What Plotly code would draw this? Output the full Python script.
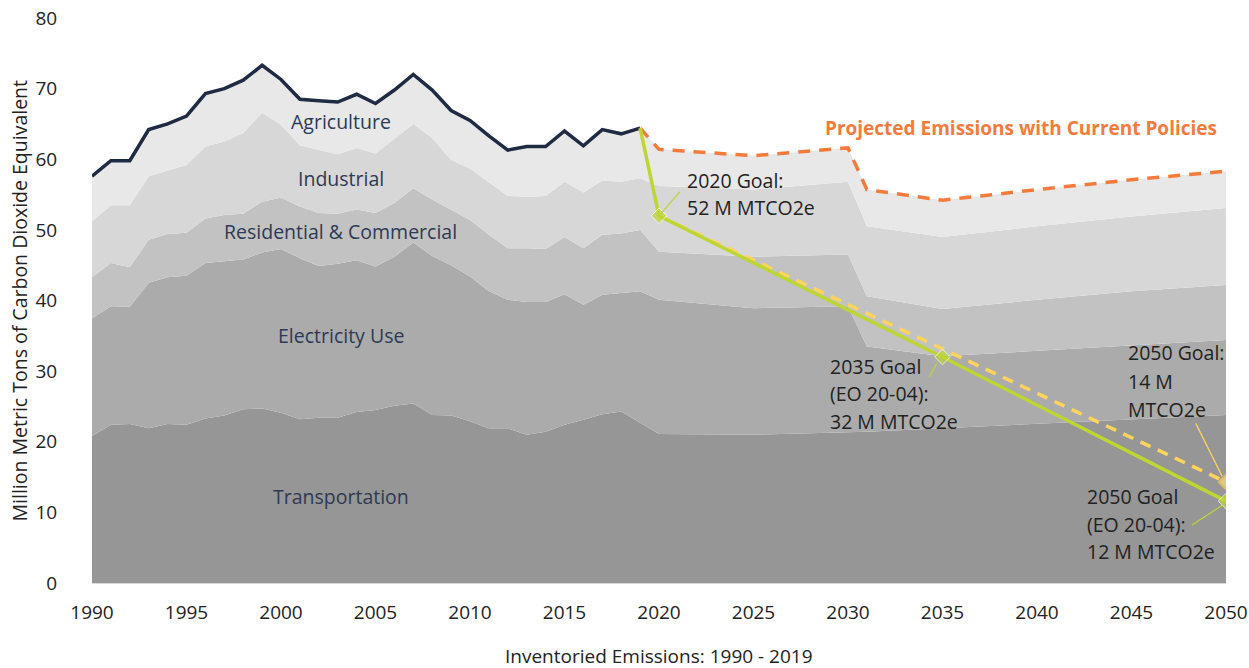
import plotly.graph_objects as go

# ---------------- data ----------------
years = list(range(1990, 2020)) + [2020, 2025, 2030, 2031, 2035, 2040, 2045, 2050]

# cumulative stack tops (million metric tons CO2e)
transport_top = [20.8, 22.4, 22.5, 21.9, 22.5, 22.4, 23.3, 23.7, 24.6, 24.7,
                 24.1, 23.2, 23.4, 23.4, 24.2, 24.5, 25.1, 25.4, 23.8, 23.7,
                 22.9, 21.9, 21.9, 21.0, 21.4, 22.4, 23.1, 23.9, 24.3, 22.7,
                 21.1, 21.0, 21.3, 21.4, 21.9, 22.5, 23.2, 23.8]
electricity_top = [37.5, 39.2, 39.1, 42.5, 43.3, 43.5, 45.3, 45.5, 45.8, 46.8,
                   47.3, 46.0, 44.9, 45.2, 45.7, 44.8, 46.2, 48.2, 46.3, 45.0,
                   43.4, 41.3, 40.1, 39.8, 39.8, 40.9, 39.4, 40.8, 41.0, 41.3,
                   40.1, 38.9, 39.2, 33.5, 32.1, 32.9, 33.6, 34.4]
rescom_top = [43.3, 45.3, 44.7, 48.6, 49.4, 49.6, 51.6, 52.1, 52.3, 54.0,
              54.6, 53.3, 52.4, 52.3, 52.9, 52.4, 53.8, 55.9, 54.3, 52.8,
              51.4, 49.3, 47.4, 47.4, 47.3, 49.0, 47.4, 49.3, 49.5, 50.0,
              46.9, 46.2, 46.5, 40.6, 38.8, 40.1, 41.3, 42.2]
industrial_top = [51.2, 53.5, 53.5, 57.6, 58.4, 59.2, 61.8, 62.5, 63.7, 66.6,
                  64.9, 62.0, 61.3, 60.7, 61.6, 60.8, 62.9, 65.0, 63.0, 59.9,
                  58.7, 56.8, 54.8, 54.7, 54.8, 56.8, 55.3, 57.0, 56.8, 57.3,
                  56.2, 55.7, 56.8, 50.5, 49.0, 50.5, 51.9, 53.1]
total = [57.6, 59.8, 59.8, 64.2, 65.0, 66.1, 69.3, 70.0, 71.2, 73.3,
         71.3, 68.5, 68.3, 68.1, 69.2, 67.9, 69.8, 72.0, 69.8, 66.9,
         65.5, 63.3, 61.3, 61.8, 61.8, 64.0, 61.9, 64.2, 63.6, 64.4,
         61.4, 60.5, 61.6, 55.7, 54.2, 55.7, 57.1, 58.3]

n_hist = 30  # 1990-2019 inventoried

goal_years = [2019, 2020, 2035, 2050]
goal_eo = [64.4, 52.0, 32.0, 11.6]
goal_14_years = [2020, 2050]
goal_14 = [52.0, 14.3]

sector_names = ["Transportation", "Electricity Use", "Residential & Commercial",
                "Industrial", "Agriculture"]
sector_colors = ["#969696", "#ABABAB", "#C2C2C2", "#D7D7D7", "#E8E8E8"]

tick_years = list(range(1990, 2051, 5))
tick_vals_y = list(range(0, 81, 10))

# ---------------- derived sector values ----------------
tops = [transport_top, electricity_top, rescom_top, industrial_top, total]
sectors = []
prev = [0.0] * len(years)
for t in tops:
    sectors.append([round(a - b, 2) for a, b in zip(t, prev)])
    prev = t

FONT = "Open Sans"
fig = go.Figure()

for name, vals, col in zip(sector_names, sectors, sector_colors):
    fig.add_trace(go.Scatter(
        x=years, y=vals, name=name, stackgroup="s", mode="lines",
        line=dict(width=0, color=col), fillcolor=col, hoverinfo="x+y+name",
        showlegend=False))

# inventoried total line
fig.add_trace(go.Scatter(
    x=years[:n_hist], y=total[:n_hist], mode="lines",
    line=dict(color="#1E2B43", width=3.5), showlegend=False))

# projected with current policies
fig.add_trace(go.Scatter(
    x=years[n_hist - 1:], y=total[n_hist - 1:], mode="lines",
    line=dict(color="#F47B3B", width=3.5, dash="12px,9px"), showlegend=False))

# 14 M goal dashed line
fig.add_trace(go.Scatter(
    x=goal_14_years, y=goal_14, mode="lines+markers",
    line=dict(color="#FFD45C", width=3.5, dash="11px,8px"),
    marker=dict(symbol="diamond", size=[0, 11], color="#FFE08A",
                line=dict(color="#FFD045", width=2)),
    showlegend=False))

# EO 20-04 goals line
fig.add_trace(go.Scatter(
    x=goal_years, y=goal_eo, mode="lines+markers",
    line=dict(color="#BDD634", width=3.5),
    marker=dict(symbol="diamond", size=[0, 12, 12, 12], color="#BDD634"),
    showlegend=False))

ann = []
label_color = "#2D3A55"
cat_labels = [("Agriculture", 65.4), ("Industrial", 57.3),
              ("Residential & Commercial", 49.7), ("Electricity Use", 35.1),
              ("Transportation", 12.2)]
for txt, yv in cat_labels:
    ann.append(dict(x=2003.15, y=yv, text=txt, showarrow=False,
                    font=dict(family=FONT, size=19.5, color=label_color),
                    xanchor="center", yanchor="middle"))

goal_lines = [
    (2021.38, [("2020 Goal:", 57.06), ("52 M MTCO2e", 53.1)]),
    (2028.94, [("2035 Goal", 30.7), ("(EO 20-04):", 26.8), ("32 M MTCO2e", 22.8)]),
    (2044.71, [("2050 Goal:", 32.6), ("14 M", 28.6), ("MTCO2e", 24.6)]),
    (2042.54, [("2050 Goal", 12.2), ("(EO 20-04):", 8.35), ("12 M MTCO2e", 4.5)]),
]
for xv, lines in goal_lines:
    for txt, yv in lines:
        ann.append(dict(x=xv, y=yv, text=txt, showarrow=False,
                        font=dict(family=FONT, size=19.5, color="#222222"),
                        xanchor="left", yanchor="middle"))

ann.append(dict(x=2039.13, y=64.4, text="<b>Projected Emissions with Current Policies</b>",
                showarrow=False, font=dict(family=FONT, size=19, color="#F47B3B"),
                xanchor="center", yanchor="middle"))

# axis titles
ann.append(dict(xref="paper", yref="paper", x=-0.0635, y=0.5,
                text="Million Metric Tons of Carbon Dioxide Equivalent",
                textangle=-90, showarrow=False,
                font=dict(family=FONT, size=19.5, color="#222222"),
                xanchor="center", yanchor="middle"))
ann.append(dict(xref="paper", yref="paper", x=0.5, y=-0.129,
                text="Inventoried Emissions: 1990 - 2019", showarrow=False,
                font=dict(family=FONT, size=19, color="#222222"),
                xanchor="center", yanchor="middle"))

# leader lines
leaders = [
    ((2020.1, 52.3), (2021.1, 55.4), "#BDD634"),
    ((2034.7, 31.1), (2034.3, 29.2), "#BDD634"),
    ((2048.4, 22.6), (2049.8, 15.1), "#FFD45C"),
    ((2048.2, 8.2), (2049.8, 11.0), "#BDD634"),
]
shapes = []
for (x0, y0), (x1, y1), c in leaders:
    shapes.append(dict(type="line", xref="x", yref="y", x0=x0, y0=y0, x1=x1, y1=y1,
                       line=dict(color=c, width=1.2)))

fig.update_layout(
    width=1249, height=668,
    margin=dict(l=92, r=23, t=18, b=85, autoexpand=False),
    paper_bgcolor="white", plot_bgcolor="white",
    font=dict(family=FONT, size=18, color="#222222"),
    annotations=ann, shapes=shapes,
    xaxis=dict(range=[1990, 2050], tickmode="array", tickvals=tick_years,
               ticktext=[str(v) for v in tick_years], showgrid=False, zeroline=False,
               showline=True, linecolor="#D9D9D9", linewidth=1, automargin=False,
               ticks="outside", ticklen=12, tickcolor="rgba(0,0,0,0)",
               tickfont=dict(family=FONT, size=19, color="#222222")),
    yaxis=dict(range=[0, 80], tickmode="array", tickvals=tick_vals_y,
               showgrid=False, zeroline=False, showline=False, automargin=False,
               ticks="outside", ticklen=30, tickcolor="rgba(0,0,0,0)",
               tickfont=dict(family=FONT, size=19, color="#222222")),
    showlegend=False,
)

fig.write_html("out.html", config={"displayModeBar": False},
               post_script="document.body.style.margin='0';")
